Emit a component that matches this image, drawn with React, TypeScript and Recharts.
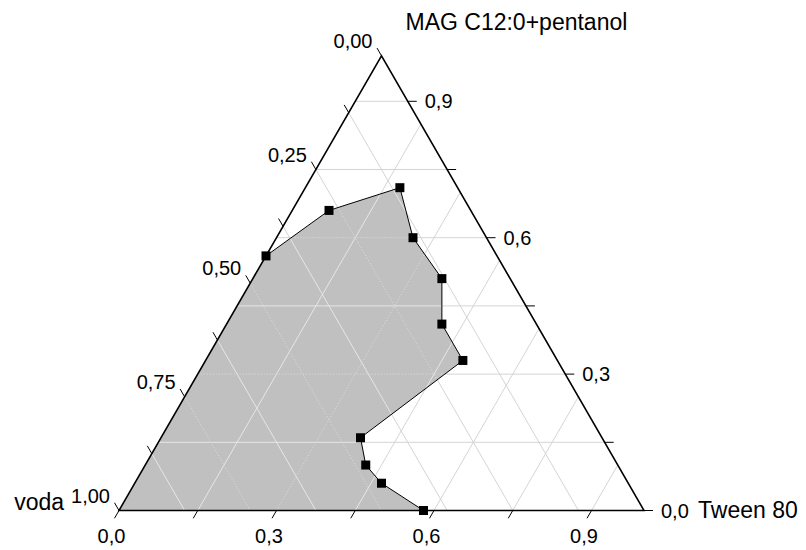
import { ScatterChart, Scatter, XAxis, YAxis } from 'recharts';

// Phase boundary points, mass fractions (voda + Tween 80 + MAG/pentanol = 1)
const voda = [0.44, 0.27, 0.11, 0.14, 0.13, 0.18, 0.18, 0.46, 0.48, 0.47, 0.42];
const tween = [0.0, 0.07, 0.18, 0.26, 0.36, 0.41, 0.49, 0.38, 0.42, 0.47, 0.58];
const mag = [0.56, 0.66, 0.71, 0.6, 0.51, 0.41, 0.33, 0.16, 0.1, 0.06, 0.0];

// Axis ticks and labels
const vodaTicks = [0, 0.125, 0.25, 0.375, 0.5, 0.625, 0.75, 0.875, 1];
const vodaLabelValues = [0, 0.25, 0.5, 0.75, 1];
const vodaLabels = ['0,00', '0,25', '0,50', '0,75', '1,00'];
const tweenTicks = [0, 0.15, 0.3, 0.45, 0.6, 0.75, 0.9];
const tweenLabelValues = [0, 0.3, 0.6, 0.9];
const tweenLabels = ['0,0', '0,3', '0,6', '0,9'];
const magTicks = [0, 0.15, 0.3, 0.45, 0.6, 0.75, 0.9];
const magLabelValues = [0, 0.3, 0.6, 0.9];
const magLabels = ['0,0', '0,3', '0,6', '0,9'];

const titles = { voda: 'voda', tween: 'Tween 80', mag: 'MAG C12:0+pentanol' };

// geometry of the drawing (pixels)
const W = 806;
const H = 550;
const SIDE = 525;
const OX = 119;
const OY = 510.5;
const TICK = 9 / SIDE;
const FONT = '"Liberation Sans", Arial, sans-serif';

const SQ = Math.sqrt(3) / 2;
// ternary -> cartesian (voda at bottom-left, Tween at bottom-right, MAG on top)
const toXY = (w: number, t: number, m: number) => ({ x: t + m / 2, y: m * SQ, w });

const near = (a: number, list: number[]) => list.some((v) => Math.abs(v - a) < 1e-6);
const inner = (list: number[]) => list.filter((v) => v > 0 && v < 1);

// grid segments as pairs of end points
const magSeg = (m: number) => [toXY(1 - m, 0, m), toXY(0, 1 - m, m)];
const tweenSeg = (t: number) => [toXY(1 - t, t, 0), toXY(0, t, 1 - t)];
const vodaSeg = (w: number) => [toXY(w, 1 - w, 0), toXY(w, 0, 1 - w)];

const gridMajor = [
  ...inner(magTicks).filter((v) => near(v, magLabelValues)).flatMap(magSeg),
  ...inner(tweenTicks).filter((v) => near(v, tweenLabelValues)).flatMap(tweenSeg),
  ...inner(vodaTicks).filter((v) => near(v, vodaLabelValues)).flatMap(vodaSeg),
];
const gridMinor = [
  ...inner(magTicks).filter((v) => !near(v, magLabelValues)).flatMap(magSeg),
  ...inner(tweenTicks).filter((v) => !near(v, tweenLabelValues)).flatMap(tweenSeg),
  ...inner(vodaTicks).filter((v) => !near(v, vodaLabelValues)).flatMap(vodaSeg),
];

// tick marks, drawn outward along the grid direction
const tickSeg = (p: { x: number; y: number }, dx: number, dy: number) => [
  p,
  { x: p.x + dx * TICK, y: p.y + dy * TICK },
];
const vodaBase = (w: number) => toXY(w, 0, 1 - w);
const tweenBase = (t: number) => toXY(1 - t, t, 0);
const magBase = (m: number) => toXY(0, 1 - m, m);
const ticks = [
  ...vodaTicks.flatMap((w) => tickSeg(vodaBase(w), -0.5, SQ)),
  ...tweenTicks.flatMap((t) => tickSeg(tweenBase(t), -0.5, -SQ)),
  ...magTicks.flatMap((m) => tickSeg(magBase(m), 1, 0)),
];

const vodaLabelData = vodaLabelValues.map((w, i) => ({ ...vodaBase(w), label: vodaLabels[i] }));
const tweenLabelData = tweenLabelValues.map((t, i) => ({ ...tweenBase(t), label: tweenLabels[i] }));
const magLabelData = magLabelValues.map((m, i) => ({ ...magBase(m), label: magLabels[i] }));

const frame = [toXY(1, 0, 0), toXY(0, 1, 0), toXY(0, 0, 1)];
const boundary = voda.map((w, i) => toXY(w, tween[i], mag[i]));
// the one-phase region closes at the water corner
const region = [toXY(1, 0, 0), ...boundary];

const none = () => <g />;

const segments = (stroke: string, dash?: string, clip?: string) => (p: any) => {
  const pts = p.points || [];
  const out = [];
  for (let i = 0; i + 1 < pts.length; i += 2) {
    out.push(
      <line
        key={i}
        x1={pts[i].x}
        y1={pts[i].y}
        x2={pts[i + 1].x}
        y2={pts[i + 1].y}
        stroke={stroke}
        strokeWidth={1}
        strokeDasharray={dash}
      />
    );
  }
  return <g clipPath={clip}>{out}</g>;
};

const ptsAttr = (p: any) => (p.points || []).map((q: any) => `${q.x},${q.y}`).join(' ');

const textShape = (dx: number, dy: number, anchor: string, size: number) => (p: any) => (
  <text
    x={p.cx + dx}
    y={p.cy + dy}
    textAnchor={anchor}
    dominantBaseline="central"
    fontSize={size}
    fontFamily={FONT}
    fill="#000"
  >
    {p.payload.label}
  </text>
);

const square = (p: any) => <rect x={p.cx - 4.5} y={p.cy - 4.5} width={9} height={9} fill="#000" />;

export default function App() {
  return (
    <div style={{ position: 'absolute', left: 0, top: 0, background: '#fff' }}>
      <ScatterChart width={W} height={H} margin={{ top: 0, right: 0, bottom: 0, left: 0 }}>
        <XAxis
          type="number"
          dataKey="x"
          hide
          allowDataOverflow
          domain={[-OX / SIDE, (W - OX) / SIDE]}
        />
        <YAxis
          type="number"
          dataKey="y"
          hide
          allowDataOverflow
          domain={[-(H - OY) / SIDE, OY / SIDE]}
        />

        {/* grid under the shaded region */}
        <Scatter
          data={[...gridMajor, ...gridMinor]}
          shape={none}
          line={segments('#d4d4d4')}
          isAnimationActive={false}
        />

        {/* shaded one-phase region */}
        <Scatter
          data={region}
          shape={none}
          line={(p: any) => (
            <g>
              <defs>
                <clipPath id="phase">
                  <polygon points={ptsAttr(p)} />
                </clipPath>
              </defs>
              <polygon points={ptsAttr(p)} fill="#c0c0c0" stroke="none" />
            </g>
          )}
          isAnimationActive={false}
        />

        {/* grid showing through the region */}
        <Scatter
          data={gridMinor}
          shape={none}
          line={segments('#e6e6e6', undefined, 'url(#phase)')}
          isAnimationActive={false}
        />
        <Scatter
          data={gridMajor}
          shape={none}
          line={segments('#dedede', '1 2', 'url(#phase)')}
          isAnimationActive={false}
        />

        {/* triangle */}
        <Scatter
          data={frame}
          shape={none}
          line={(p: any) => (
            <polygon points={ptsAttr(p)} fill="none" stroke="#000" strokeWidth={1.6} strokeLinejoin="miter" />
          )}
          isAnimationActive={false}
        />
        <Scatter data={ticks} shape={none} line={segments('#000')} isAnimationActive={false} />

        {/* boundary */}
        <Scatter
          data={boundary}
          shape={square}
          line={(p: any) => <polyline points={ptsAttr(p)} fill="none" stroke="#000" strokeWidth={1} />}
          isAnimationActive={false}
        />

        {/* tick labels */}
        <Scatter data={vodaLabelData} shape={textShape(-9, -15, 'end', 20)} isAnimationActive={false} />
        <Scatter data={tweenLabelData} shape={textShape(-7.5, 25, 'middle', 20)} isAnimationActive={false} />
        <Scatter data={magLabelData} shape={textShape(17, 0, 'start', 20)} isAnimationActive={false} />

        {/* axis titles */}
        <Scatter
          data={[{ ...toXY(1, 0, 0), label: titles.voda }]}
          shape={textShape(-55, -9, 'end', 23)}
          isAnimationActive={false}
        />
        <Scatter
          data={[{ ...toXY(0, 1, 0), label: titles.tween }]}
          shape={textShape(54, -1, 'start', 23)}
          isAnimationActive={false}
        />
        <Scatter
          data={[{ ...toXY(0, 0, 1), label: titles.mag }]}
          shape={textShape(24, -34, 'start', 23)}
          isAnimationActive={false}
        />
      </ScatterChart>
    </div>
  );
}
